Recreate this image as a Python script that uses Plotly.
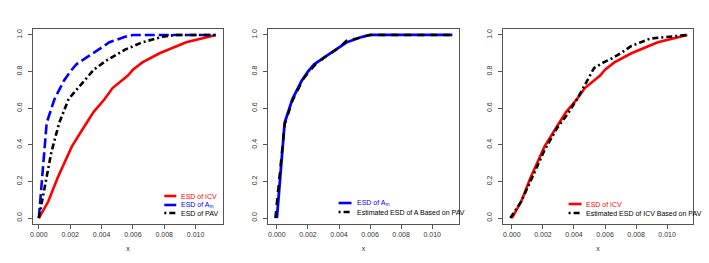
import plotly.graph_objects as go

# ---------------- data ----------------
icv_x = [0.0000, 0.0006, 0.0012, 0.0021, 0.0029, 0.0035, 0.0042, 0.0047, 0.0057, 0.0060, 0.0066, 0.0077, 0.0094, 0.0113]
icv_y = [0.00, 0.09, 0.22, 0.39, 0.50, 0.58, 0.65, 0.71, 0.78, 0.81, 0.85, 0.90, 0.96, 1.00]

am_x = [0.0000, 0.0005, 0.0010, 0.0016, 0.0020, 0.0024, 0.0031, 0.0036, 0.0040, 0.0045, 0.0050, 0.0055, 0.0060, 0.0113]
am_y = [0.00, 0.52, 0.65, 0.75, 0.80, 0.84, 0.88, 0.91, 0.93, 0.96, 0.975, 0.99, 1.00, 1.00]

pav_x = [0.0000, 0.0002, 0.00046, 0.0008, 0.0013, 0.0019, 0.0026, 0.0035, 0.0043, 0.0055, 0.0066, 0.0079, 0.0087, 0.0113]
pav_y = [0.00, 0.09, 0.19, 0.36, 0.52, 0.65, 0.72, 0.81, 0.86, 0.92, 0.96, 0.99, 1.00, 1.00]

est_a_x = [-0.0001, 0.0005, 0.0010, 0.0017, 0.0020, 0.0025, 0.0031, 0.0036, 0.0040, 0.0045, 0.0051, 0.0060, 0.0113]
est_a_y = [0.00, 0.51, 0.64, 0.76, 0.79, 0.84, 0.88, 0.91, 0.93, 0.97, 0.98, 1.00, 1.00]

est_icv_x = [-0.0001, 0.0006, 0.0013, 0.0021, 0.0029, 0.0036, 0.0042, 0.0047, 0.0053, 0.0059, 0.0064, 0.0070, 0.0077, 0.0089, 0.0102, 0.0113]
est_icv_y = [0.00, 0.09, 0.22, 0.37, 0.49, 0.57, 0.65, 0.73, 0.82, 0.85, 0.87, 0.90, 0.94, 0.98, 0.99, 1.00]

x_ticks = [0.000, 0.002, 0.004, 0.006, 0.008, 0.010]
y_ticks = [0.0, 0.2, 0.4, 0.6, 0.8, 1.0]

# ---------------- styling ----------------
W, H = 709, 263
RED, BLUE, BLACK = "#FF0000", "#0000FF", "#000000"
LW = 2.6
DASH_BLUE = "10px,4px"
DASH_BLACK = "6px,3px,2px,3px"
FONT = "Liberation Sans, Arial, Helvetica, sans-serif"
AXC = "#555555"
TXC = "#333333"

panels = [  # pixel boxes: left, right, x range
    (30, 221, [-0.00038, 0.01175]),
    (266, 458, [-0.00058, 0.01173]),
    (502, 693, [-0.00058, 0.01167]),
]
top_px, bot_px = 29, 224

fig = go.Figure()

def add(ix, x, y, color, dash, name, width=LW):
    fig.add_trace(go.Scatter(
        x=x, y=y, mode="lines", name=name, showlegend=False,
        xaxis="x" if ix == 0 else f"x{ix+1}",
        yaxis="y" if ix == 0 else f"y{ix+1}",
        line=dict(color=color, width=width, dash=dash)))

add(0, icv_x, icv_y, RED, "solid", "ESD of ICV")
add(0, am_x, am_y, BLUE, DASH_BLUE, "ESD of A_m")
add(0, pav_x, pav_y, BLACK, DASH_BLACK, "ESD of PAV")
add(1, am_x, am_y, BLUE, "solid", "ESD of A_m", 2.8)
add(1, est_a_x, est_a_y, BLACK, "7px,6px", "Estimated ESD of A Based on PAV", 2.4)
add(2, icv_x, icv_y, RED, "solid", "ESD of ICV")
add(2, est_icv_x, est_icv_y, BLACK, DASH_BLACK, "Estimated ESD of ICV Based on PAV")

layout = dict(
    width=W, height=H, margin=dict(l=0, r=0, t=0, b=0),
    paper_bgcolor="white", plot_bgcolor="white",
    font=dict(family=FONT, size=7, color=TXC),
    showlegend=False,
)
ydom = [1 - bot_px / H, 1 - top_px / H]
for i, (l, r, xr) in enumerate(panels):
    sx = "" if i == 0 else str(i + 1)
    layout["xaxis" + sx] = dict(
        domain=[l / W, r / W], range=xr, anchor="y" + sx,
        tickvals=x_ticks, tickformat=".3f", ticks="outside", ticklen=4,
        tickcolor=AXC, showline=True, linecolor=AXC, linewidth=1, mirror=True,
        showgrid=False, zeroline=False, tickfont=dict(size=7, color=TXC),
        title=dict(text="x", standoff=8, font=dict(size=7, color=TXC)),
    )
    layout["yaxis" + sx] = dict(
        domain=ydom, range=[-0.0326, 1.0326], anchor="x" + sx,
        tickvals=y_ticks, tickformat=".1f", ticks="outside", ticklen=4,
        tickcolor=AXC, showline=True, linecolor=AXC, linewidth=1, mirror=True,
        showgrid=False, zeroline=False, tickangle=-90, ticklabelstandoff=3,
        tickfont=dict(size=7, color=TXC),
    )
fig.update_layout(**layout)

# ---------------- manual R-style legends ----------------
def legend(x0, x1, xt, rows):
    for (yp, color, dash, text, tcol) in rows:
        fig.add_shape(type="line", xref="paper", yref="paper",
                      x0=x0 / W, x1=x1 / W, y0=1 - yp / H, y1=1 - yp / H,
                      line=dict(color=color, width=LW, dash=dash))
        fig.add_annotation(xref="paper", yref="paper", x=xt / W, y=1 - yp / H,
                           text=text, showarrow=False, xanchor="left", yanchor="middle",
                           font=dict(size=7, color=tcol, family=FONT))

legend(162, 174, 177, [
    (196, RED, "solid", "ESD of ICV", RED),
    (205, BLUE, "solid", "ESD of A<sub>m</sub>", BLUE),
    (213, BLACK, "2px,3px,6px", "ESD of PAV", BLACK),
])
legend(337, 350, 353, [
    (203, BLUE, "solid", "ESD of A<sub>m</sub>", BLUE),
    (212, BLACK, "2px,3px,6px", "Estimated ESD of A Based on PAV", BLACK),
])
legend(568, 581, 583, [
    (204, RED, "solid", "ESD of ICV", RED),
    (213, BLACK, "2px,3px,6px", "Estimated ESD of ICV Based on PAV", BLACK),
])

fig.write_html("out.html", config={"displayModeBar": False},
               post_script="document.body.style.margin='0';document.body.style.overflow='hidden';")
